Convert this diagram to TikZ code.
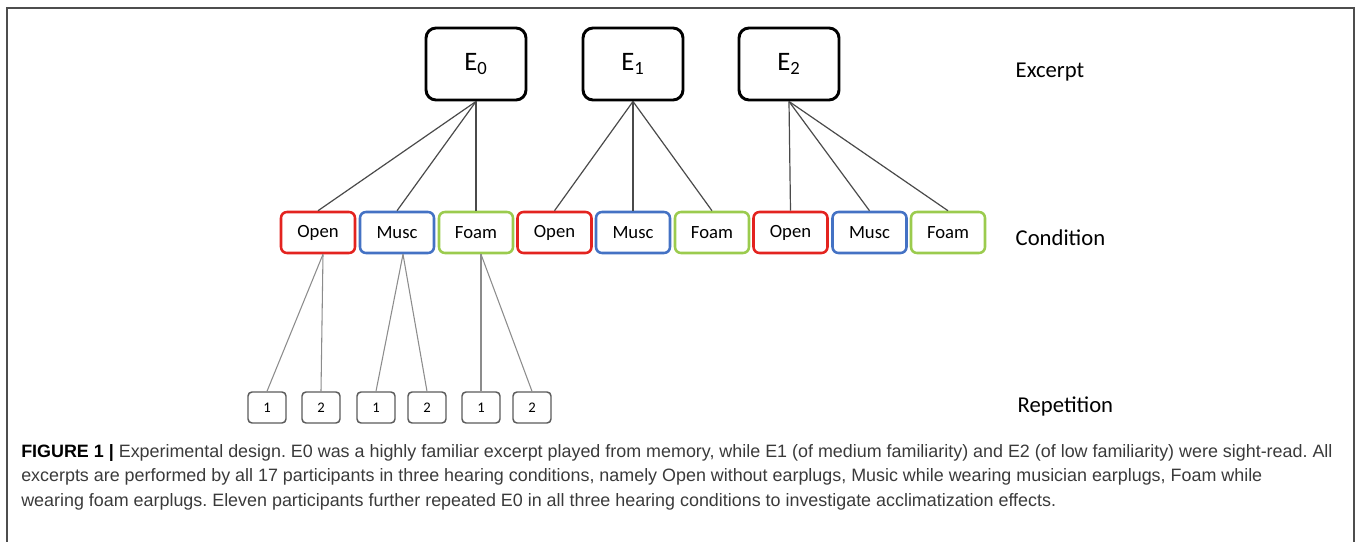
\documentclass[tikz,border=0pt]{standalone}
\usepackage{fontspec}
\setmainfont{Carlito}
\newfontfamily\capfont{Liberation Sans}
\usetikzlibrary{calc}
\frenchspacing
\definecolor{openred}{HTML}{E3231F}
\definecolor{muscblue}{HTML}{4472C4}
\definecolor{foamgreen}{HTML}{9BCB4E}
\definecolor{linegray}{HTML}{4A4A4A}
\definecolor{replinegray}{HTML}{8C8C8C}
\definecolor{repboxgray}{HTML}{5A5A5A}
\definecolor{framegray}{HTML}{4D4D4D}
\definecolor{captext}{HTML}{3A3A3A}
\tikzset{
  exbox/.style={draw=black, line width=2.2pt, rounded corners=7.5pt,
    minimum width=75pt, minimum height=54pt, font=\fontsize{20}{24}\selectfont},
  condbox/.style={draw=#1, line width=1.9pt, rounded corners=4.5pt,
    minimum width=55.5pt, minimum height=30.75pt, font=\fontsize{14}{16}\selectfont},
  repbox/.style={draw=repboxgray, line width=1.1pt, rounded corners=3pt,
    minimum width=28.5pt, minimum height=23.25pt, font=\fontsize{11}{12}\selectfont},
  lvl/.style={font=\fontsize{17}{20}\selectfont, anchor=west},
  exline/.style={draw=linegray, line width=0.9pt},
  repline/.style={draw=replinegray, line width=0.8pt},
  capline/.style={anchor=base west, inner sep=0pt, text=captext,
    font=\capfont\fontsize{13.43}{16}\selectfont}
}
\begin{document}
\begin{tikzpicture}[x=0.75pt,y=-0.75pt]
\useasboundingbox (0,0) rectangle (1357,542);
% frame
\draw[framegray, line width=1.1pt] (7,542) -- (7,8) -- (1354,8) -- (1354,542);

% excerpts
\node[exbox] (e0) at (476,64) {E\textsubscript{0}};
\node[exbox] (e1) at (633,64) {E\textsubscript{1}};
\node[exbox] (e2) at (789,64) {E\textsubscript{2}};

% conditions
\node[condbox=openred]   (o1) at (318,232.5) {Open};
\node[condbox=muscblue]  (m1) at (397,232.5) {Musc};
\node[condbox=foamgreen] (f1) at (476,232.5) {Foam};
\node[condbox=openred]   (o2) at (554.5,232.5) {Open};
\node[condbox=muscblue]  (m2) at (633,232.5) {Musc};
\node[condbox=foamgreen] (f2) at (712,232.5) {Foam};
\node[condbox=openred]   (o3) at (790.5,232.5) {Open};
\node[condbox=muscblue]  (m3) at (869.5,232.5) {Musc};
\node[condbox=foamgreen] (f3) at (948,232.5) {Foam};

% repetitions
\node[repbox] (r1) at (267,407.5) {1};
\node[repbox] (r2) at (321,407.5) {2};
\node[repbox] (r3) at (376,407.5) {1};
\node[repbox] (r4) at (427,407.5) {2};
\node[repbox] (r5) at (481,407.5) {1};
\node[repbox] (r6) at (532,407.5) {2};

% level labels
\node[lvl] (lex) at (1011,72) {Excerpt};
\node[lvl] (lco) at (1011,238) {Condition};
\node[lvl] (lre) at (1013,406) {Repetition};

% excerpt -> condition
\draw[exline] (e0.south) -- (o1.north);
\draw[exline] (e0.south) -- (m1.north);
\draw[exline] (e0.south) -- (f1.north);
\draw[exline] (e1.south) -- (o2.north);
\draw[exline] (e1.south) -- (m2.north);
\draw[exline] (e1.south) -- (f2.north);
\draw[exline] (e2.south) -- (o3.north);
\draw[exline] (e2.south) -- (m3.north);
\draw[exline] (e2.south) -- (f3.north);

% condition -> repetition
\draw[repline] ([xshift=3.75pt]o1.south) -- (r1.north);
\draw[repline] ([xshift=3.75pt]o1.south) -- (r2.north);
\draw[repline] ([xshift=4.5pt]m1.south) -- (r3.north);
\draw[repline] ([xshift=4.5pt]m1.south) -- (r4.north);
\draw[repline] ([xshift=3.75pt]f1.south) -- (r5.north);
\draw[repline] ([xshift=3.75pt]f1.south) -- (r6.north);

% caption
\node[capline] (c1) at (21,457) {\textbf{\color{black}FIGURE 1 |} Experimental design. E0 was a highly familiar excerpt played from memory, while E1 (of medium familiarity) and E2 (of low familiarity) were sight-read. All};
\node[capline] (c2) at (21,481.5) {excerpts are performed by all 17 participants in three hearing conditions, namely Open without earplugs, Music while wearing musician earplugs, Foam while};
\node[capline] (c3) at (21,506) {wearing foam earplugs. Eleven participants further repeated E0 in all three hearing conditions to investigate acclimatization effects.};
\end{tikzpicture}
\end{document}
